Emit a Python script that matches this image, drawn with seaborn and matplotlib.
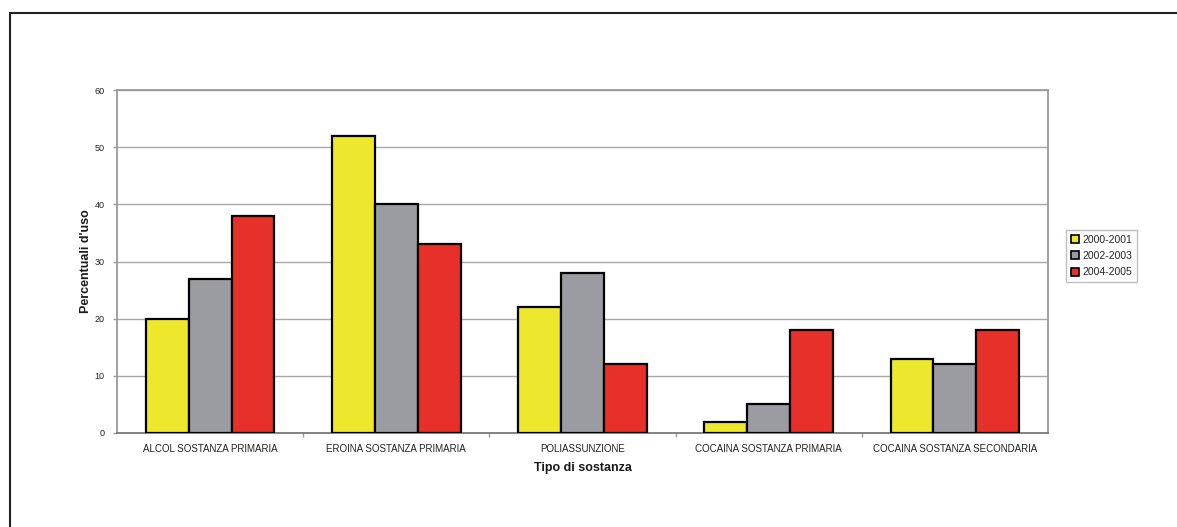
import matplotlib
matplotlib.use("Agg")
import matplotlib.pyplot as plt
from matplotlib.lines import Line2D
from matplotlib.patches import Patch
import seaborn as sns
import pandas as pd

categories = [
    "ALCOL SOSTANZA PRIMARIA",
    "EROINA SOSTANZA PRIMARIA",
    "POLIASSUNZIONE",
    "COCAINA SOSTANZA PRIMARIA",
    "COCAINA SOSTANZA SECONDARIA",
]
periods = ["2000-2001", "2002-2003", "2004-2005"]
values_2000_2001 = [20, 52, 22, 2, 13]
values_2002_2003 = [27, 40, 28, 5, 12]
values_2004_2005 = [38, 33, 12, 18, 18]
y_ticks = [0, 10, 20, 30, 40, 50, 60]

colors = ["#EEE82C", "#9A9CA1", "#E8302A"]

rows = []
for period, vals in zip(periods, [values_2000_2001, values_2002_2003, values_2004_2005]):
    for cat, v in zip(categories, vals):
        rows.append({"Tipo di sostanza": cat, "Periodo": period, "Valore": v})
df = pd.DataFrame(rows)

sns.set_theme(style="white")
plt.rcParams["font.family"] = ["Liberation Sans", "DejaVu Sans"]

fig = plt.figure(figsize=(11.77, 5.27), dpi=100)
ax = fig.add_axes([117 / 1177, 1 - 433 / 527, 931 / 1177, 343 / 527])

sns.barplot(
    data=df, x="Tipo di sostanza", y="Valore", hue="Periodo",
    order=categories, hue_order=periods, palette=colors,
    width=0.69, gap=0, edgecolor="black", linewidth=1.6,
    saturation=1, errorbar=None, ax=ax, legend=False, zorder=3,
)

ax.set_xlim(-0.5, len(categories) - 0.5)
ax.set_ylim(0, 60)
ax.set_yticks(y_ticks)
ax.set_yticklabels([str(t) for t in y_ticks], fontsize=6.5)
ax.yaxis.grid(True, color="#A8A8A8", linewidth=1.0, zorder=0)
ax.xaxis.grid(False)

for side in ["left", "right", "top", "bottom"]:
    ax.spines[side].set_visible(True)
    ax.spines[side].set_color("#9A9A9A")
    ax.spines[side].set_linewidth(1.3)
ax.spines["bottom"].set_color("#7A7A7A")

ax.tick_params(axis="y", which="major", left=True, length=3, width=1, color="#9A9A9A", pad=6, labelcolor="#222222")
ax.tick_params(axis="x", which="major", bottom=False, pad=2, labelsize=7, labelcolor="#222222")
ax.set_xticks(range(len(categories)))
ax.set_xticklabels(categories, fontsize=7)
ax.set_xticks([i + 0.5 for i in range(len(categories) - 1)], minor=True)
ax.tick_params(axis="x", which="minor", bottom=True, length=3, width=1, color="#9A9A9A")

ax.set_ylabel("Percentuali d'uso", fontsize=9, fontweight="bold", labelpad=2, color="#1A1A1A")
ax.set_xlabel("Tipo di sostanza", fontsize=9, fontweight="bold", labelpad=6, color="#1A1A1A")

handles = [Patch(facecolor=c, edgecolor="black", linewidth=1.2) for c in colors]
leg = fig.legend(
    handles, periods, loc="upper left",
    bbox_to_anchor=(1066 / 1177, 1 - 230 / 527),
    fontsize=7.5, frameon=True, fancybox=False,
    handlelength=0.8, handleheight=0.8, handletextpad=0.3,
    labelspacing=0.6, borderpad=0.45, borderaxespad=0,
)
leg.get_frame().set_edgecolor("#B0B0B0")
leg.get_frame().set_linewidth(1.0)

# frame lines along the top and left of the figure
fig.add_artist(Line2D([10 / 1177, 1.0], [1 - 13 / 527, 1 - 13 / 527],
                      transform=fig.transFigure, color="#222222", linewidth=1.5))
fig.add_artist(Line2D([10 / 1177, 10 / 1177], [0.0, 1 - 13 / 527],
                      transform=fig.transFigure, color="#222222", linewidth=1.5))

fig.savefig("out.png", dpi=100, facecolor="white")
